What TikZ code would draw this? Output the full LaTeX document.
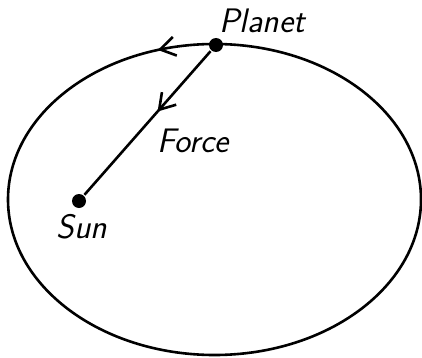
\documentclass[tikz,border=0pt]{standalone}
\usepackage{fontspec}
\usetikzlibrary{arrows.meta,decorations.markings}
\begin{document}
\begin{tikzpicture}[x=1pt,y=1pt,line width=2.6pt,font=\fontsize{34}{40}\selectfont\sffamily\itshape,
  body/.style={circle,fill,inner sep=0pt,minimum size=14pt},
  barb/.style={decoration={markings,mark=at position #1 with {\arrow{Straight Barb[length=15pt,width=19pt]}}},postaction={decorate}}]
\useasboundingbox (0,0) rectangle (422,357);
\coordinate (c) at (214.5,157.5);
\draw[barb=0.30] (c) ellipse [x radius=206.5, y radius=155.5];
\node[body] (planet) at (216,312) {};
\node[body] (sun) at (79,156) {};
\draw[barb=0.42] (planet) -- (sun);
\node[anchor=base west,inner sep=0pt] (planetlabel) at (218,324) {Planet};
\node[anchor=base west,inner sep=0pt] (forcelabel) at (156,205) {Force};
\node[anchor=base west,inner sep=0pt] (sunlabel) at (55,119) {Sun};
\end{tikzpicture}
\end{document}
